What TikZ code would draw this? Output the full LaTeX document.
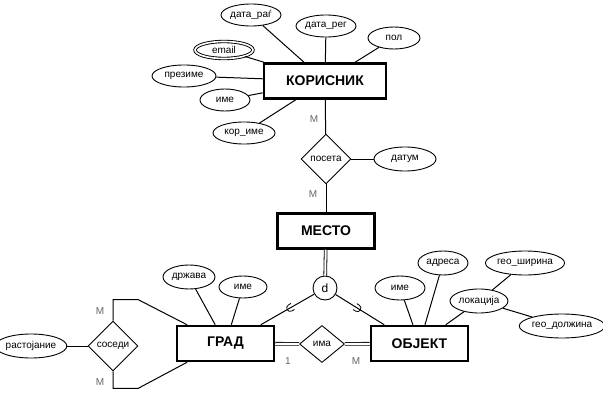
\documentclass[tikz,border=0pt]{standalone}
\usepackage{fontspec}
\setmainfont{Liberation Sans}
\usetikzlibrary{shapes.geometric}

\tikzset{
    entity/.style={draw, line width=2.5pt, minimum width=97pt, minimum height=35pt, font=\bfseries\fontsize{14}{16}\selectfont},
    attr/.style={draw, ellipse, line width=0.9pt, inner sep=0pt, font=\fontsize{10}{12}\selectfont},
    rel/.style={draw, diamond, line width=0.9pt, inner sep=0pt, font=\fontsize{10}{12}\selectfont},
    card/.style={text=black!60, font=\fontsize{10}{12}\selectfont},
    link/.style={line width=1pt},
    total/.style={line width=0.8pt, double, double distance=2pt},
    subset/.pic={\draw[line width=0.8pt] (-3pt,-3.5pt) -- (0pt,-3.5pt) arc[start angle=-90, end angle=90, radius=3.5pt] -- (-3pt,3.5pt);}
}

\begin{document}
\begin{tikzpicture}[x=1pt, y=-1pt]
        \useasboundingbox (0,0) rectangle (603,404);

        \node[entity, minimum width=122pt] (korisnik) at (325,81) {КОРИСНИК};
        \node[entity] (mesto) at (326,231) {МЕСТО};
        \node[entity] (grad) at (225.5,343.5) {ГРАД};
        \node[entity] (objekat) at (419.5,343.5) {ОБЈЕКТ};

        \node[attr, minimum width=60pt, minimum height=22pt] (datarodj) at (251,15) {дата\_раѓ};
        \node[attr, minimum width=60pt, minimum height=22pt] (datareg) at (326,26) {дата\_рег};
        \node[attr, minimum width=52pt, minimum height=22pt] (pol) at (394,38) {пол};
        \node[attr, double, double distance=1.6pt, minimum width=58pt, minimum height=17pt] (email) at (224,50) {email};
        \node[attr, minimum width=64pt, minimum height=22pt] (prezime) at (184,76) {презиме};
        \node[attr, minimum width=50pt, minimum height=22pt] (ime) at (225,100) {име};
        \node[attr, minimum width=62pt, minimum height=22pt] (korime) at (244,133) {кор\_име};

        \node[rel, minimum width=50pt, minimum height=50pt] (poseta) at (326,159) {посета};
        \node[attr, minimum width=62pt, minimum height=24pt] (datum) at (405,159) {датум};

        \node[draw, circle, line width=0.9pt, minimum size=24pt, inner sep=0pt, font=\fontsize{12}{14}\selectfont] (d) at (325,288) {d};

        \node[attr, minimum width=52pt, minimum height=24pt] (drzava) at (189,277) {држава};
        \node[attr, minimum width=48pt, minimum height=22pt] (imegrad) at (243,287) {име};
        \node[rel, minimum width=50pt, minimum height=50pt] (susedi) at (113,346) {соседи};
        \node[attr, minimum width=62pt, minimum height=24pt] (rastojanje) at (31,346) {растојание};

        \node[rel, minimum width=45pt, minimum height=37pt] (ima) at (322,344) {има};

        \node[attr, minimum width=50pt, minimum height=24pt] (imeobj) at (400,288) {име};
        \node[attr, minimum width=50pt, minimum height=24pt] (adresa) at (443,263) {адреса};
        \node[attr, minimum width=58pt, minimum height=24pt] (lokacija) at (479,301) {локација};
        \node[attr, minimum width=76pt, minimum height=24pt] (geosir) at (525,263) {гео\_ширина};
        \node[attr, minimum width=76pt, minimum height=24pt] (geoduz) at (562,326) {гео\_должина};

        \node[card] (m1) at (314,119) {M};
        \node[card] (m2) at (313,194) {M};
        \node[card] (m3) at (100,311) {M};
        \node[card] (m4) at (100,382) {M};
        \node[card] (jedan) at (288,361) {1};
        \node[card] (m5) at (356,361) {M};

        \draw[link] (datarodj) -- (korisnik);
        \draw[link] (datareg) -- (korisnik);
        \draw[link] (pol) -- (korisnik);
        \draw[link] (email) -- (korisnik);
        \draw[link] (prezime) -- (korisnik);
        \draw[link] (ime) -- (korisnik);
        \draw[link] (korime) -- (korisnik);

        \draw[link] (korisnik) -- (poseta);
        \draw[link] (poseta) -- (mesto);
        \draw[link] (poseta) -- (datum);

        \draw[total] (mesto) -- (d);
        \draw[link] (d) -- pic[pos=0.45, sloped, allow upside down]{subset} (grad.28);
        \draw[link] (d) -- pic[pos=0.45, sloped, allow upside down]{subset} (objekat.152);

        \draw[link] (drzava) -- (grad);
        \draw[link] (imegrad) -- (grad);
        \draw[link] (susedi.north) -- ++(0,-21) -- ++(25,0) -- (grad.154);
        \draw[link] (susedi.south) -- ++(0,17) -- ++(25,0) -- (grad.206);
        \draw[link] (rastojanje) -- (susedi);

        \draw[total] (grad) -- (ima);
        \draw[total] (ima) -- (objekat);

        \draw[link] (imeobj) -- (objekat);
        \draw[link] (adresa) -- (objekat);
        \draw[link] (lokacija) -- (objekat);
        \draw[link] (geosir) -- (lokacija);
        \draw[link] (geoduz) -- (lokacija);
    \end{tikzpicture}
\end{document}
